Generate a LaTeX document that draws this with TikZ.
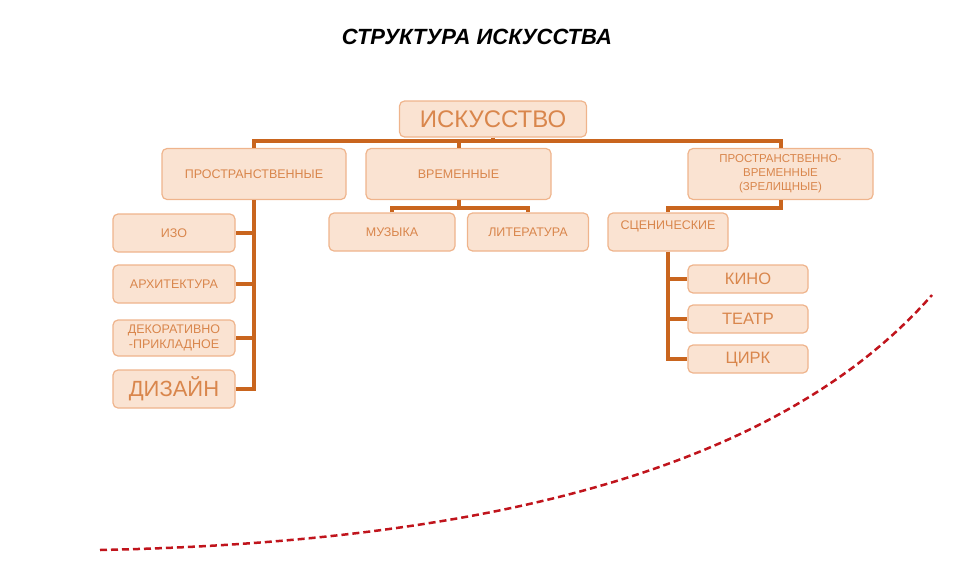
\documentclass[tikz,border=0pt]{standalone}
\usepackage{fontspec}
\setmainfont{Liberation Sans}
\usepackage{xcolor}
\usepackage{tikz}
\usetikzlibrary{positioning}

\definecolor{boxfill}{HTML}{FAE3D2}
\definecolor{boxline}{HTML}{EFB48C}
\definecolor{boxtext}{HTML}{D9864C}
\definecolor{linkcol}{HTML}{C9651E}
\definecolor{curvecol}{HTML}{C0141C}

\begin{document}
\begin{tikzpicture}[x=1pt,y=-1pt,
    box/.style={draw=boxline, fill=boxfill, line width=1.2pt, rounded corners=5pt,
      inner sep=0pt, align=center, text=boxtext, font=\fontsize{12.5}{14}\selectfont},
    link/.style={draw=linkcol, line width=4pt}]
  \useasboundingbox (0,0) rectangle (953,560);

  \node[font=\fontsize{22}{24}\selectfont\bfseries\itshape] (title) at (477,37) {СТРУКТУРА ИСКУССТВА};

  % top level
  \node[box, minimum width=187pt, minimum height=36pt, font=\fontsize{24}{26}\selectfont] (art) at (493,119) {ИСКУССТВО};
  \node[box, minimum width=184pt, minimum height=51pt] (spat) at (254,174) {ПРОСТРАНСТВЕННЫЕ};
  \node[box, minimum width=185pt, minimum height=51pt] (temp) at (458.5,174) {ВРЕМЕННЫЕ};
  \node[box, minimum width=185pt, minimum height=51pt, font=\fontsize{11.5}{14}\selectfont] (spatemp) at (780.5,174) {ПРОСТРАНСТВЕННО-\\ВРЕМЕННЫЕ\\(ЗРЕЛИЩНЫЕ)};

  % spatial arts
  \node[box, minimum width=122pt, minimum height=38pt] (izo) at (174,233) {ИЗО};
  \node[box, minimum width=122pt, minimum height=38pt] (arch) at (174,284) {АРХИТЕКТУРА};
  \node[box, minimum width=122pt, minimum height=36pt, font=\fontsize{12.5}{15.5}\selectfont] (decor) at (174,338) {ДЕКОРАТИВНО\\-ПРИКЛАДНОЕ};
  \node[box, minimum width=122pt, minimum height=38pt, font=\fontsize{22}{24}\selectfont] (design) at (174,389) {ДИЗАЙН};

  % temporal arts
  \node[box, minimum width=126pt, minimum height=38pt] (music) at (392,232) {МУЗЫКА};
  \node[box, minimum width=121pt, minimum height=38pt] (lit) at (528,232) {ЛИТЕРАТУРА};

  % spectacle arts
  \node[box, minimum width=120pt, minimum height=38pt, text depth=13pt] (stage) at (668,232) {СЦЕНИЧЕСКИЕ};
  \node[box, minimum width=120pt, minimum height=28pt, font=\fontsize{16.5}{18}\selectfont] (kino) at (748,279) {КИНО};
  \node[box, minimum width=120pt, minimum height=28pt, font=\fontsize{16.5}{18}\selectfont] (teatr) at (748,319) {ТЕАТР};
  \node[box, minimum width=120pt, minimum height=28pt, font=\fontsize{16.5}{18}\selectfont] (circus) at (748,359) {ЦИРК};

  % connectors
  \coordinate (bus) at (493,141);
  \draw[link] (art.south) -- (bus);
  \draw[link] (spat.north) |- (bus) -| (spatemp.north);
  \draw[link] (temp.north) -- (temp.north |- bus);

  \draw[link] (spat.south) |- (design.east);
  \draw[link] (spat.south |- izo.east) -- (izo.east);
  \draw[link] (spat.south |- arch.east) -- (arch.east);
  \draw[link] (spat.south |- decor.east) -- (decor.east);

  \draw[link] (temp.south) -- ++(0,8) coordinate (tbus);
  \draw[link] (music.north) |- (tbus) -| (lit.north);

  \draw[link] (spatemp.south) -- ++(0,8) -| (stage.north);
  \draw[link] (stage.south) |- (circus.west);
  \draw[link] (stage.south |- kino.west) -- (kino.west);
  \draw[link] (stage.south |- teatr.west) -- (teatr.west);

  % dashed curve
  \draw[curvecol, line width=2.5pt, dash pattern=on 7pt off 4pt]
    (100,550) .. controls (490,542) and (780,468) .. (932,295);
\end{tikzpicture}
\end{document}
